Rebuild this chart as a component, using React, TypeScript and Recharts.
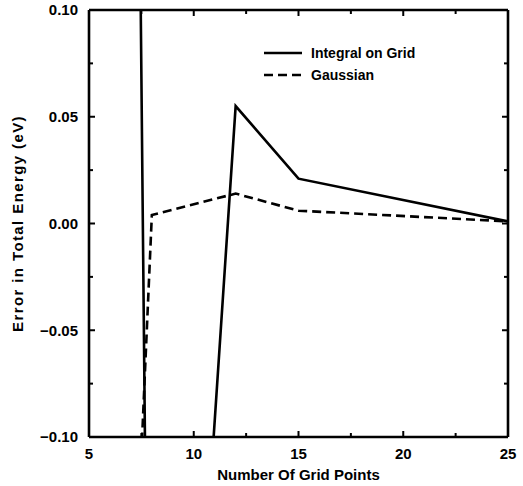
import { LineChart, Line, XAxis, YAxis, ReferenceLine, Label } from "recharts";

// grid points used by each method
const integralX = [7, 8, 10, 12, 15, 25];
const integralErr = [0.57, -0.43, -0.24, 0.055, 0.021, 0.001];
const gaussianX = [7, 8, 12, 15, 25];
const gaussianErr = [-0.22, 0.004, 0.014, 0.006, 0.001];

const xMajor = [5, 10, 15, 20, 25];
const xMinor = [7.5, 12.5, 17.5, 22.5];
const yMajor = [-0.1, -0.05, 0, 0.05, 0.1];
const yMinor = [-0.075, -0.025, 0.025, 0.075];

const integralData = integralX.map((x, i) => ({ x, err: integralErr[i] }));
const gaussianData = gaussianX.map((x, i) => ({ x, err: gaussianErr[i] }));

const xAll = [...xMajor, ...xMinor].sort((a, b) => a - b);
const yAll = [...yMajor, ...yMinor].sort((a, b) => a - b);

const font = "'Liberation Sans', Arial, Helvetica, sans-serif";
const ink = "#000";

const W = 523;
const H = 486;
const M = { top: 10, right: 15, bottom: 0, left: 0 };
const X_AXIS_H = 49;
const Y_AXIS_W = 89;
const PLOT_W = W - M.left - M.right - Y_AXIS_W;
const PLOT_H = H - M.top - M.bottom - X_AXIS_H;

const MAJOR = 6;
const MINOR = 4;
const GAP = 11;

const isMajor = (list: number[], v: number) => list.some((m) => Math.abs(m - v) < 1e-9);

function fmtY(v: number) {
  const s = Math.abs(v).toFixed(2);
  return v < -1e-9 ? "\u2212" + s : s;
}

const labelStyle = { fill: ink, fontSize: 15, fontWeight: "bold" as const, fontFamily: font };

// inward tick marks on bottom+top (mirrored) and left+right, labels on bottom/left
function BottomTick(p: any) {
  const { x, y, payload } = p;
  const major = isMajor(xMajor, payload.value);
  const len = major ? MAJOR : MINOR;
  const ay = y - GAP;
  const ty = ay - PLOT_H;
  return (
    <g>
      <line x1={x} x2={x} y1={ay} y2={ay - len} stroke={ink} strokeWidth={2} />
      <line x1={x} x2={x} y1={ty} y2={ty + len} stroke={ink} strokeWidth={2} />
      {major && (
        <text x={x} y={y} dy="0.71em" textAnchor="middle" {...labelStyle}>
          {payload.value}
        </text>
      )}
    </g>
  );
}

function LeftTick(p: any) {
  const { x, y, payload } = p;
  const major = isMajor(yMajor, payload.value);
  const len = major ? MAJOR : MINOR;
  const ax = x + GAP;
  const rx = ax + PLOT_W;
  return (
    <g>
      <line x1={ax} x2={ax + len} y1={y} y2={y} stroke={ink} strokeWidth={2} />
      <line x1={rx} x2={rx - len} y1={y} y2={y} stroke={ink} strokeWidth={2} />
      {major && (
        <text x={x} y={y} dy="0.355em" textAnchor="end" {...labelStyle}>
          {fmtY(payload.value)}
        </text>
      )}
    </g>
  );
}

function LegendBox() {
  const rows = [
    { name: "Integral on Grid", dash: undefined },
    { name: "Gaussian", dash: "9 5" },
  ];
  return (
    <div
      style={{
        position: "absolute",
        left: 264,
        top: 42,
        fontFamily: font,
        fontWeight: "bold",
        fontSize: 14,
        color: ink,
      }}
    >
      {rows.map((r) => (
        <div key={r.name} style={{ display: "flex", alignItems: "center", height: 22 }}>
          <svg width={40} height={10} style={{ marginRight: 7 }}>
            <line x1={0} y1={5} x2={38} y2={5} stroke={ink} strokeWidth={2.6} strokeDasharray={r.dash} />
          </svg>
          <span>{r.name}</span>
        </div>
      ))}
    </div>
  );
}

export default function App() {
  return (
    <div style={{ position: "absolute", left: 0, top: 0, width: W, height: H, background: "#fff" }}>
      <LineChart width={W} height={H} margin={M}>
        <XAxis
          dataKey="x"
          type="number"
          domain={[5, 25]}
          ticks={xAll}
          interval={0}
          allowDataOverflow
          height={X_AXIS_H}
          tickSize={0}
          tickMargin={GAP}
          tickLine={false}
          axisLine={{ stroke: ink, strokeWidth: 2.6 }}
          tick={<BottomTick />}
        >
          <Label value="Number Of Grid Points" position="insideBottom" offset={6} style={labelStyle} />
        </XAxis>
        <YAxis
          type="number"
          domain={[-0.1, 0.1]}
          ticks={yAll}
          interval={0}
          allowDataOverflow
          width={Y_AXIS_W}
          tickSize={0}
          tickMargin={GAP}
          tickLine={false}
          axisLine={{ stroke: ink, strokeWidth: 2.6 }}
          tick={<LeftTick />}
        >
          <Label
            value="Error in Total Energy (eV)"
            angle={-90}
            position="insideLeft"
            offset={18}
            style={{ ...labelStyle, letterSpacing: 1.4, textAnchor: "middle" }}
          />
        </YAxis>

        <ReferenceLine y={0.1} stroke={ink} strokeWidth={2.6} />
        <ReferenceLine x={25} stroke={ink} strokeWidth={2.6} />

        <Line
          data={integralData}
          dataKey="err"
          name="Integral on Grid"
          type="linear"
          stroke={ink}
          strokeWidth={2.6}
          dot={false}
          activeDot={false}
          isAnimationActive={false}
        />
        <Line
          data={gaussianData}
          dataKey="err"
          name="Gaussian"
          type="linear"
          stroke={ink}
          strokeWidth={2.6}
          strokeDasharray="9 5"
          dot={false}
          activeDot={false}
          isAnimationActive={false}
        />
      </LineChart>
      <LegendBox />
    </div>
  );
}
